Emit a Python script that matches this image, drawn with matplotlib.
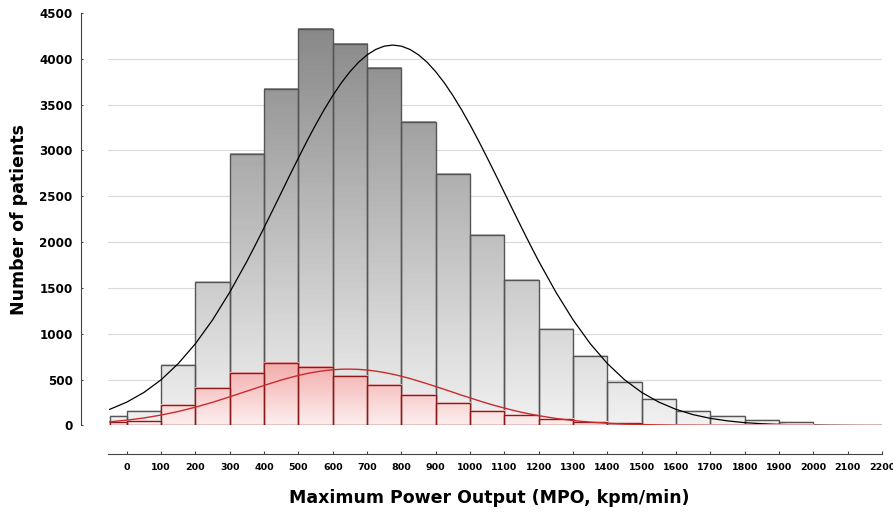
import numpy as np
import matplotlib
matplotlib.use("Agg")
import matplotlib.pyplot as plt
from matplotlib.colors import LinearSegmentedColormap
from matplotlib.ticker import FixedLocator

# histogram bins (kpm/min)
bin_left = [-50, 0, 100, 200, 300, 400, 500, 600, 700, 800, 900, 1000,
            1100, 1200, 1300, 1400, 1500, 1600, 1700, 1800, 1900]
bin_right = [0, 100, 200, 300, 400, 500, 600, 700, 800, 900, 1000, 1100,
             1200, 1300, 1400, 1500, 1600, 1700, 1800, 1900, 2000]

# all patients (gray)
all_counts = [105, 160, 660, 1560, 2965, 3670, 4330, 4165, 3900, 3310, 2740,
              2080, 1590, 1050, 755, 478, 286, 162, 104, 57, 35]
# subgroup (red)
sub_counts = [35, 52, 224, 410, 577, 686, 635, 540, 442, 333, 249,
              162, 111, 71, 41, 22, 10, 5, 3, 2, 1]

# fitted normal curves
curve_x = [-50, 0, 50, 100, 150, 200, 250, 300, 350,
           375, 400, 425, 450, 475, 500, 525, 550, 575, 600, 625, 650, 675,
           700, 725, 750, 775, 800, 825, 850, 875, 900, 925, 950, 975, 1000,
           1025, 1050, 1075, 1100, 1125, 1150, 1175,
           1200, 1250, 1300, 1350, 1400, 1450, 1500, 1550, 1600, 1650, 1700,
           1750, 1800, 1850, 1900, 1950, 2000, 2050, 2100, 2150, 2200]
all_curve = [176, 255, 361, 499, 676, 893, 1153, 1455, 1792,
             1973, 2159, 2349, 2540, 2732, 2920, 3104, 3280, 3446, 3599, 3738,
             3859, 3962, 4043, 4102, 4138, 4150, 4138, 4102, 4043, 3962, 3859,
             3738, 3599, 3446, 3280, 3104, 2920, 2732, 2540, 2349, 2159, 1973,
             1792, 1455, 1153, 893, 676, 499, 361, 255, 176, 118, 78,
             50, 31, 19, 12, 7, 4, 2, 1, 0, 0]
sub_curve = [40, 58, 82, 114, 153, 200, 253, 313, 375,
             406, 437, 467, 496, 522, 546, 567, 584, 598, 608, 614, 615, 612,
             605, 593, 578, 559, 537, 512, 484, 455, 425, 394, 363, 331, 301,
             271, 242, 215, 190, 166, 144, 125,
             107, 77, 54, 37, 24, 15, 10, 6, 3, 2, 1,
             0, 0, 0, 0, 0, 0, 0, 0, 0, 0]

x_ticks = list(range(0, 2300, 100))
y_ticks = list(range(0, 5000, 500))

fig = plt.figure(figsize=(8.93, 5.13), dpi=100)
ax = fig.add_axes([0.1209, 0.1706, 0.8667, 0.8041])

gray_cmap = LinearSegmentedColormap.from_list("g", ["#f1f1f1", "#858585"])
red_cmap = LinearSegmentedColormap.from_list("r", ["#fdeeee", "#f3aaaa"])


def gradient_bars(lefts, rights, heights, cmap, vmax, edge, z):
    for l, r, h in zip(lefts, rights, heights):
        grad = np.linspace(0, h, 64).reshape(-1, 1)
        ax.imshow(grad, extent=[l, r, 0, h], origin="lower", aspect="auto",
                  cmap=cmap, vmin=0, vmax=vmax, zorder=z)
    widths = [r - l for l, r in zip(lefts, rights)]
    ax.bar(lefts, heights, width=widths, align="edge", facecolor="none",
           edgecolor=edge, linewidth=1.0, zorder=z + 0.1)


for y in y_ticks[1:-1]:
    ax.axhline(y, color="#dadada", lw=0.8, zorder=0)

gradient_bars(bin_left, bin_right, all_counts, gray_cmap, 4500, "#555555", 2)
ax.plot(curve_x, all_curve, color="black", lw=0.9, zorder=3)
gradient_bars(bin_left, bin_right, sub_counts, red_cmap, 700, "#8b1a1a", 4)
ax.plot(curve_x, sub_curve, color="#cc2a2a", lw=1.0, zorder=5)

ax.set_xlim(-55, 2200)
ax.set_ylim(0, 4500)

for s in ["top", "right"]:
    ax.spines[s].set_visible(False)
ax.spines["left"].set_position(("outward", 19.4))
ax.spines["bottom"].set_position(("outward", 20.2))
ax.spines["left"].set_color("#444444")
ax.spines["bottom"].set_color("#444444")

ax.set_xticks(x_ticks)
ax.set_xticklabels([str(v) for v in x_ticks], fontsize=6.8, fontweight="bold")
ax.set_yticks(y_ticks)
ax.set_yticklabels([str(v) for v in y_ticks], fontsize=8.6, fontweight="bold")
ax.tick_params(axis="x", direction="in", length=2.2, color="#444444", pad=7)
ax.tick_params(axis="y", direction="in", length=1.5, color="#444444", pad=6)
ax.yaxis.set_minor_locator(FixedLocator([0, 4500]))
ax.tick_params(axis="y", which="minor", direction="in", length=4, color="#444444")

fig.text(0.5476, 0.029, "Maximum Power Output (MPO, kpm/min)", ha="center",
         va="center", fontsize=12.5, fontweight="bold")
fig.text(0.021, 0.573, "Number of patients", ha="center", va="center",
         rotation=90, fontsize=12.5, fontweight="bold")

fig.savefig("out.png", dpi=100)
